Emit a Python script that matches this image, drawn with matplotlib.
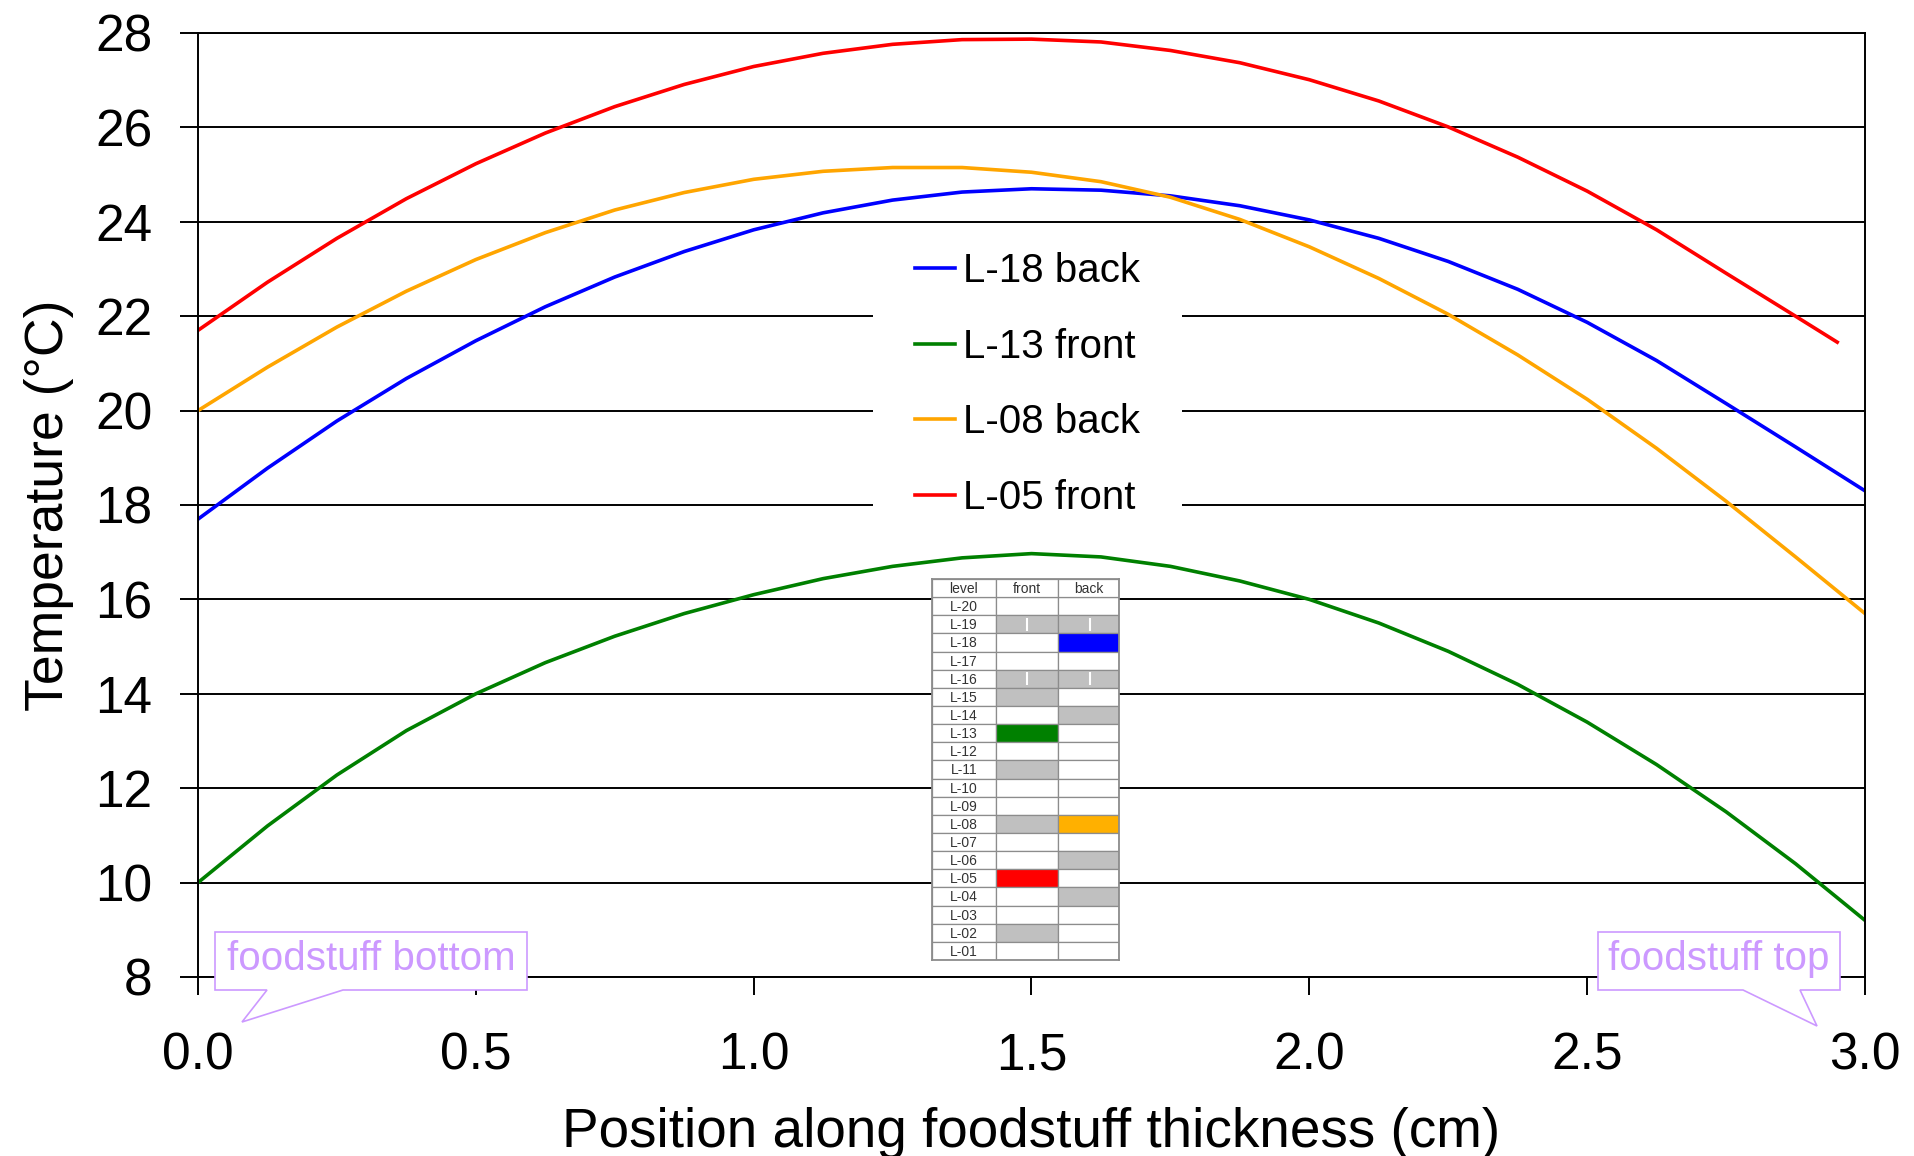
import matplotlib.pyplot as plt
from matplotlib.patches import Polygon, Rectangle

plt.rcParams['font.family'] = ['Liberation Sans', 'DejaVu Sans']

# positions along the foodstuff thickness (cm)
position = [0.0, 0.125, 0.25, 0.375, 0.5, 0.625, 0.75, 0.875, 1.0, 1.125, 1.25, 1.375, 1.5,
            1.625, 1.75, 1.875, 2.0, 2.125, 2.25, 2.375, 2.5, 2.625, 2.75, 2.875, 3.0]
position_l05 = position[:-1] + [2.95]

# temperatures (deg C)
l18_back = [17.7, 18.78, 19.78, 20.68, 21.48, 22.2, 22.83, 23.37, 23.83, 24.19, 24.46, 24.63, 24.7,
            24.67, 24.55, 24.34, 24.04, 23.65, 23.16, 22.57, 21.87, 21.06, 20.15, 19.23, 18.3]
l13_front = [10.0, 11.2, 12.28, 13.22, 14.0, 14.66, 15.22, 15.7, 16.1, 16.44, 16.7, 16.88, 16.97,
             16.9, 16.7, 16.39, 16.0, 15.5, 14.9, 14.2, 13.4, 12.5, 11.5, 10.4, 9.2]
l08_back = [20.0, 20.92, 21.77, 22.53, 23.2, 23.77, 24.25, 24.62, 24.9, 25.07, 25.15, 25.15, 25.05,
            24.85, 24.52, 24.05, 23.47, 22.8, 22.04, 21.18, 20.24, 19.2, 18.08, 16.9, 15.7]
l05_front = [21.7, 22.72, 23.65, 24.49, 25.23, 25.88, 26.44, 26.91, 27.29, 27.57, 27.76, 27.86, 27.87,
             27.81, 27.63, 27.37, 27.01, 26.56, 26.01, 25.37, 24.65, 23.83, 22.91, 22.0, 21.45]

x_ticks = [0.0, 0.5, 1.0, 1.5, 2.0, 2.5, 3.0]
y_ticks = [8, 10, 12, 14, 16, 18, 20, 22, 24, 26, 28]

# sensor location table (inset)
levels = ['L-20', 'L-19', 'L-18', 'L-17', 'L-16', 'L-15', 'L-14', 'L-13', 'L-12', 'L-11',
          'L-10', 'L-09', 'L-08', 'L-07', 'L-06', 'L-05', 'L-04', 'L-03', 'L-02', 'L-01']
G = '#c0c0c0'
W = 'white'
front_cells = [W, G, W, W, G, G, W, '#008000', W, G, W, W, G, W, W, '#ff0000', W, W, G, W]
back_cells = [W, G, '#0000ff', W, G, W, G, W, W, W, W, W, '#ffb000', W, G, W, G, W, W, W]

fig = plt.figure(figsize=(19.15, 11.56), dpi=100)
ax = fig.add_axes([198 / 1915, 1 - 977 / 1156, 1667 / 1915, 944 / 1156])

ax.plot(position, l18_back, color='#0000ff', lw=2.6, label='L-18 back')
ax.plot(position, l13_front, color='#008000', lw=2.6, label='L-13 front')
ax.plot(position, l08_back, color='#ffa500', lw=2.6, label='L-08 back')
ax.plot(position_l05, l05_front, color='#ff0000', lw=2.6, label='L-05 front')

ax.set_xlim(0, 3)
ax.set_ylim(8, 28)
ax.set_xticks(x_ticks)
ax.set_xticklabels([f'{t:.1f}' for t in x_ticks])
ax.set_yticks(y_ticks)
ax.tick_params(axis='both', labelsize=37, length=13, width=1.4, direction='out')
ax.tick_params(axis='y', pad=20)
ax.tick_params(axis='x', pad=26)
ax.grid(axis='y', color='black', lw=1.4)
ax.set_axisbelow(True)
for s in ax.spines.values():
    s.set_linewidth(1.4)

ax.set_xlabel('Position along foodstuff thickness (cm)', fontsize=39.5, va='baseline')
ax.xaxis.set_label_coords(0.5, -0.18)
ax.set_ylabel('Temperature (°C)', fontsize=38.5, va='center')
ax.yaxis.set_label_coords(-0.0894, 0.5)

# white patch behind the legend hides the grid lines
ax.add_patch(Rectangle((0.405, 0.485), 0.185, 0.298, transform=ax.transAxes,
                       facecolor='white', edgecolor='none', zorder=1.5))
ax.legend(loc='center', bbox_to_anchor=(0.4977, 0.6275), frameon=False, fontsize=29,
          handlelength=1.0, handletextpad=0.2, labelspacing=0.93, borderpad=0)


# callouts at both faces of the foodstuff
def px(x, y):
    return ((x - 198) / 1667, (977 - y) / 944)


bottom_shape = [px(215, 932), px(527, 932), px(527, 990), px(343, 990), px(242, 1022),
                px(267, 990), px(215, 990)]
top_shape = [px(1598, 932), px(1840, 932), px(1840, 990), px(1800, 990), px(1817, 1026),
             px(1743, 990), px(1598, 990)]
for shape in [bottom_shape, top_shape]:
    ax.add_patch(Polygon(shape, closed=True, transform=ax.transAxes, facecolor='white',
                         edgecolor='#cc99ff', lw=1.2, clip_on=False, zorder=5))
ax.text(*px(371, 970), 'foodstuff bottom', transform=ax.transAxes, ha='center', va='baseline',
        fontsize=29, color='#cc99ff', zorder=6, clip_on=False)
ax.text(*px(1719, 970), 'foodstuff top', transform=ax.transAxes, ha='center', va='baseline',
        fontsize=29, color='#cc99ff', zorder=6, clip_on=False)

# inset table
ax_t = fig.add_axes([932 / 1915, 1 - 960 / 1156, 187 / 1915, 381 / 1156])
col_left = [0, 64, 126]
col_width = [64, 62, 61]
rows = [i + 1.5 for i in range(len(levels))]
ax_t.barh(rows, col_width[0], left=col_left[0], height=1, color=W, edgecolor='#8c8c8c', lw=0.9)
ax_t.barh(rows, col_width[1], left=col_left[1], height=1, color=front_cells, edgecolor='#8c8c8c', lw=0.9)
ax_t.barh(rows, col_width[2], left=col_left[2], height=1, color=back_cells, edgecolor='#8c8c8c', lw=0.9)
for c, name in enumerate(['level', 'front', 'back']):
    ax_t.barh(0.5, col_width[c], left=col_left[c], height=1, color=W, edgecolor='#8c8c8c', lw=0.9)
    ax_t.text(col_left[c] + col_width[c] / 2, 0.55, name, ha='center', va='center', fontsize=10, color='#333333')
for r, lev in zip(rows, levels):
    ax_t.text(col_left[0] + col_width[0] / 2, r + 0.05, lev, ha='center', va='center', fontsize=10, color='#333333')
for lev in ['L-19', 'L-16']:
    r = rows[levels.index(lev)]
    ax_t.vlines([95, 158], r - 0.35, r + 0.35, color='white', lw=1.5)
ax_t.set_xlim(0, 187)
ax_t.set_ylim(21, 0)
ax_t.set_xticks([])
ax_t.set_yticks([])
for s in ax_t.spines.values():
    s.set_color('#8c8c8c')
    s.set_linewidth(1.3)

fig.savefig('out.png', dpi=100)
